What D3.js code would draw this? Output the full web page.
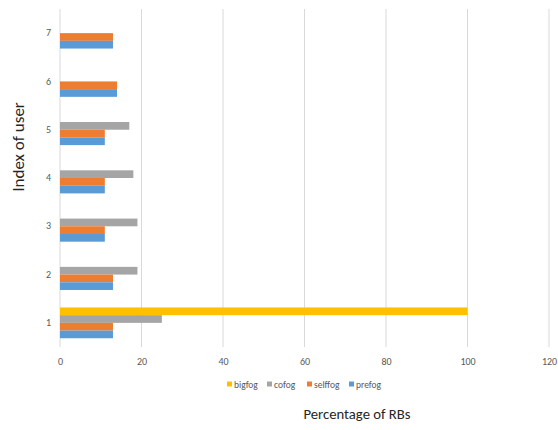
<!DOCTYPE html>
<html>
<head>
<meta charset="utf-8">
<script src="https://cdn.jsdelivr.net/npm/d3@7"></script>
<style>
  html, body { margin: 0; padding: 0; background: #fff; }
  svg { display: block; font-family: Calibri, Carlito, "Liberation Sans", "Open Sans", sans-serif; }
</style>
</head>
<body>
<svg id="chart" width="558" height="430"></svg>
<script>
const users = ["1", "2", "3", "4", "5", "6", "7"];
const seriesNames = ["bigfog", "cofog", "selffog", "prefog"];
const bigfog  = [100, 0, 0, 0, 0, 0, 0];
const cofog   = [25, 19, 19, 18, 17, 0, 0];
const selffog = [13, 13, 11, 11, 11, 14, 13];
const prefog  = [13, 13, 11, 11, 11, 14, 13];
const xTicks = [0, 20, 40, 60, 80, 100, 120];
const colors = ["#FFC000", "#A5A5A5", "#ED7D31", "#5B9BD5"];

const seriesValues = [bigfog, cofog, selffog, prefog];

const svg = d3.select("#chart");
const plotLeft = 60, plotRight = 549, plotTop = 9, plotBottom = 347;

const x = d3.scaleLinear().domain([0, 120]).range([plotLeft, plotRight]);
// users from bottom (1) to top (7)
const y = d3.scaleBand().domain(users.slice().reverse()).range([plotTop, plotBottom]).paddingInner(0).paddingOuter(0);
const barH = 7.7;
const inner = d3.scaleBand().domain(seriesNames).range([-2 * barH, 2 * barH]);

// gridlines
svg.append("g")
  .selectAll("line")
  .data(xTicks)
  .join("line")
  .attr("x1", d => x(d)).attr("x2", d => x(d))
  .attr("y1", plotTop).attr("y2", plotBottom)
  .attr("stroke", "#D9D9D9").attr("stroke-width", 1);

// bars
const groups = svg.append("g").selectAll("g")
  .data(users)
  .join("g")
  .attr("transform", d => `translate(0,${y(d) + y.bandwidth() / 2})`);

groups.selectAll("rect")
  .data((u, i) => seriesNames.map((s, k) => ({ s, v: seriesValues[k][i], c: colors[k] })))
  .join("rect")
  .attr("x", x(0))
  .attr("y", d => inner(d.s))
  .attr("width", d => x(d.v) - x(0))
  .attr("height", inner.bandwidth())
  .attr("fill", d => d.c);

// x axis labels
const xAxis = d3.axisBottom(x).tickValues(xTicks).tickSize(0).tickPadding(11);
const gx = svg.append("g").attr("transform", `translate(0,${plotBottom})`).call(xAxis);
gx.select(".domain").remove();
gx.selectAll("text").attr("fill", "#595959").style("font-size", "10px")
  .style("font-family", "Calibri, Carlito, 'Liberation Sans', sans-serif");

// y axis labels
const yAxis = d3.axisLeft(y).tickSize(0).tickPadding(9);
const gy = svg.append("g").attr("transform", `translate(${plotLeft},0)`).call(yAxis);
gy.select(".domain").remove();
gy.selectAll("text").attr("fill", "#595959").style("font-size", "10px")
  .style("font-family", "Calibri, Carlito, 'Liberation Sans', sans-serif");

// legend
const legendX = [227, 267, 307, 349];
const legend = svg.append("g").selectAll("g")
  .data(seriesNames)
  .join("g")
  .attr("transform", (d, i) => `translate(${legendX[i]},385)`);
legend.append("rect").attr("x", 0).attr("y", -3.5).attr("width", 5).attr("height", 5)
  .attr("fill", (d, i) => colors[i]);
legend.append("text").attr("x", 7).attr("y", 0).attr("dy", "0.35em")
  .attr("fill", "#595959").style("font-size", "9.5px").text(d => d);

// axis titles
svg.append("text").attr("x", 357).attr("y", 419).attr("text-anchor", "middle")
  .attr("fill", "#262626").style("font-size", "14.7px").text("Percentage of RBs");
svg.append("text").attr("transform", "translate(24,147) rotate(-90)").attr("text-anchor", "middle")
  .attr("fill", "#262626").style("font-size", "17px").text("Index of user");
</script>
</body>
</html>
